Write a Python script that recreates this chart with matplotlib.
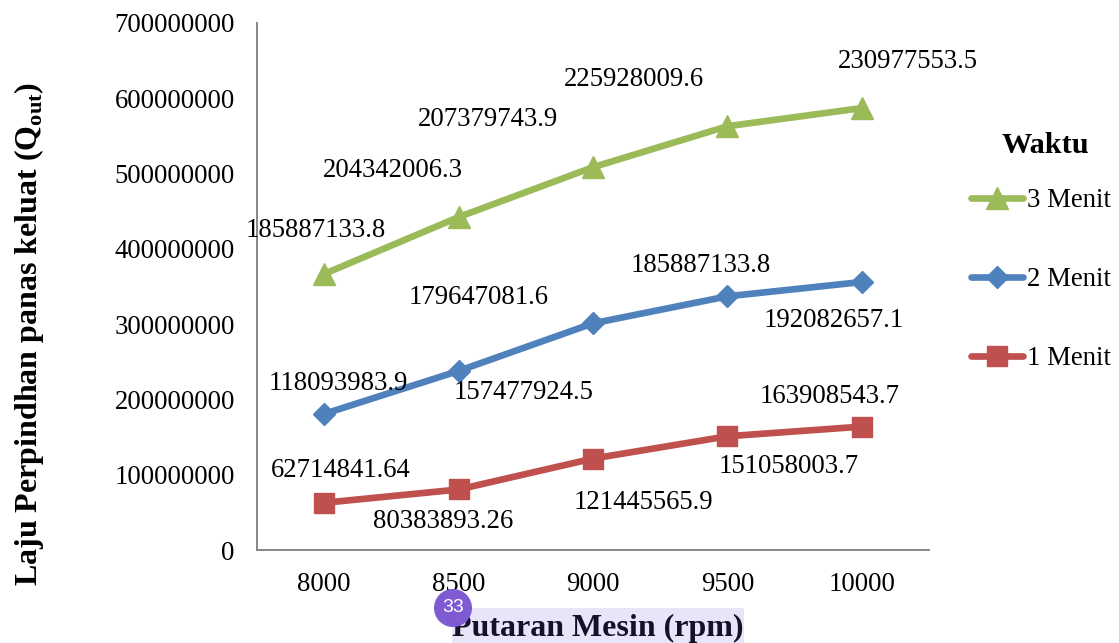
import matplotlib
matplotlib.use('Agg')
import matplotlib.pyplot as plt
from matplotlib.patches import Rectangle, Circle
import numpy as np

plt.rcParams['font.family'] = ['Liberation Serif', 'DejaVu Serif']
plt.rcParams['mathtext.fontset'] = 'custom'
plt.rcParams['mathtext.bf'] = 'Liberation Serif:bold'
plt.rcParams['mathtext.rm'] = 'Liberation Serif'

rpm = ['8000', '8500', '9000', '9500', '10000']
menit_1 = [62714841.64, 80383893.26, 121445565.9, 151058003.7, 163908543.7]
menit_2 = [118093983.9, 157477924.5, 179647081.6, 185887133.8, 192082657.1]
menit_3 = [185887133.8, 204342006.3, 207379743.9, 225928009.6, 230977553.5]
label_1 = ['62714841.64', '80383893.26', '121445565.9', '151058003.7', '163908543.7']
label_2 = ['118093983.9', '157477924.5', '179647081.6', '185887133.8', '192082657.1']
label_3 = ['185887133.8', '204342006.3', '207379743.9', '225928009.6', '230977553.5']

# posisi label data (piksel dari titik)
off_1 = [(17, 32), (-15, -32), (50, -44), (61, -30), (-32, 30)]
off_2 = [(14, 30), (65, -22), (-114, 26), (-27, 31), (-28, -39)]
off_3 = [(-8, 43), (-66, 47), (-105, 48), (-93, 47), (46, 47)]

W, H = 1119, 643
fig = plt.figure(figsize=(W / 100, H / 100), dpi=100)
ax = fig.add_axes([257 / W, 1 - 550 / H, 672 / W, 527 / H])

x = np.arange(len(rpm))
# grafik bertumpuk
y1 = np.array(menit_1)
y2 = y1 + np.array(menit_2)
y3 = y2 + np.array(menit_3)

series = [
    (y3, label_3, off_3, '#9BBB59', '^', '3 Menit', 15.5),
    (y2, label_2, off_2, '#4F81BD', 'D', '2 Menit', 11),
    (y1, label_1, off_1, '#C0504D', 's', '1 Menit', 14),
]
for ys, labels, offs, color, marker, name, ms in series:
    ax.plot(x, ys, color=color, lw=4.8, marker=marker, ms=ms, label=name,
            solid_capstyle='round', mec=color)
    for xi, yi, t, o in zip(x, ys, labels, offs):
        ax.annotate(t, (xi, yi), xytext=o, textcoords='offset pixels',
                    ha='center', va='center', fontsize=19.3, color='black')

ax.set_xlim(-0.5, 4.5)
ax.set_ylim(0, 700000000)
ax.set_xticks(x)
ax.set_xticklabels(rpm)
ax.set_yticks(np.arange(0, 700000001, 100000000))
ax.ticklabel_format(axis='y', style='plain')
ax.tick_params(axis='y', length=0, labelsize=19.3, pad=16)
ax.tick_params(axis='x', length=0, labelsize=19.3, pad=16)
for s in ['top', 'right']:
    ax.spines[s].set_visible(False)
for s in ['left', 'bottom']:
    ax.spines[s].set_color('#868686')
    ax.spines[s].set_linewidth(1.4)

leg = ax.legend(loc='upper left', bbox_to_anchor=(971 / W, 1 - 132 / H),
                bbox_transform=fig.transFigure, frameon=False, title='Waktu',
                title_fontproperties={'weight': 'bold', 'size': 21.8},
                fontsize=19.3, handlelength=1.95, handletextpad=0.15,
                labelspacing=2.02, borderpad=0, borderaxespad=0)
leg._legend_box.sep = 21
leg.get_title().set_position((4, 0))

fig.text(29 / W, 1 - 334 / H, r'Laju Perpindhan panas keluat (Q$_{\mathbf{out}}$)',
         rotation=90, ha='center', va='center', fontsize=23, fontweight='bold')

# sorotan dan lencana di bawah grafik
fig.add_artist(Rectangle((452 / W, 0), 292 / W, 35 / H, transform=fig.transFigure,
                         fc='#E9E4F7', ec='none', zorder=1))
fig.text(598 / W, 1 - 628 / H, 'Putaran Mesin (rpm)', ha='center', va='center',
         fontsize=23, fontweight='bold', color='#15112B', zorder=2)
fig.add_artist(Circle((453, H - 608), 19, transform=None, fc='#7E5BD2', ec='none', zorder=3))
fig.text(453 / W, 1 - 608 / H, '33', ha='center', va='center', fontsize=14,
         color='white', family='Liberation Sans', zorder=4)

fig.savefig('out.png', dpi=100)
